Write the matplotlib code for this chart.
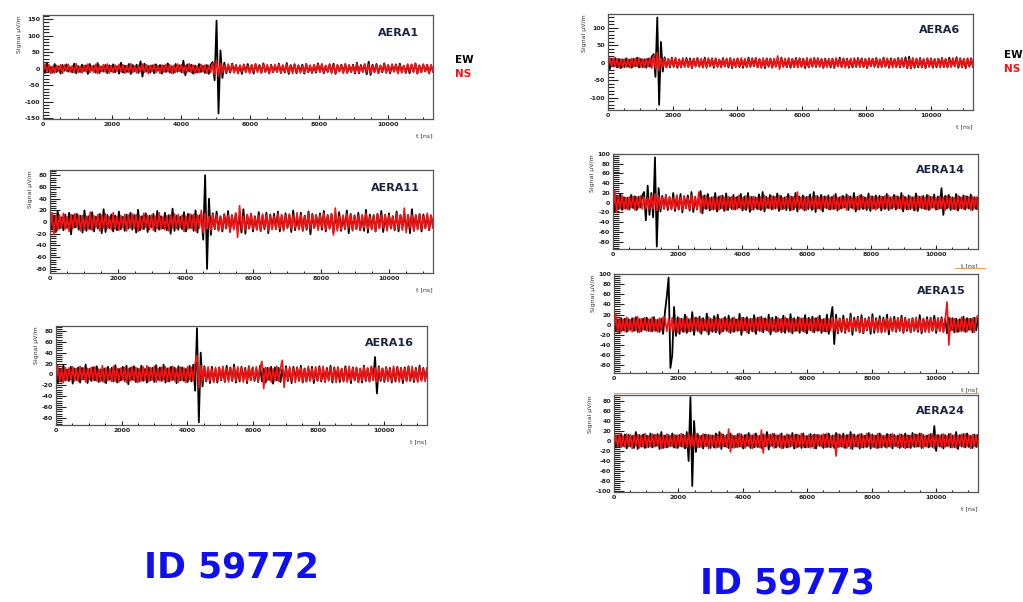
import numpy as np
import matplotlib
matplotlib.use("Agg")
import matplotlib.pyplot as plt
from matplotlib.ticker import MultipleLocator, AutoMinorLocator
from matplotlib.lines import Line2D

plt.rcParams["axes.unicode_minus"] = False

W, H = 1023, 602
T_END = 11300  # ns, end of the trace window

# ---- traces (signal in uV/m, evenly sampled over 0..T_END) ----
aera1_ew = [9, -13, 16, -8, 5, -12, 14, -10, 7, -15, 11, -6, 13, -9, 4, -11, 15, -14, 8, -10,
            12, -7, 10, -16, 14, -5, 9, -12, 17, -13, 6, -9, 11, -14, 10, -8, 13, -11, 7, -15,
            18, -12, 9, -10, 14, -16, 11, -7, 12, -13, 22, -24, 15, -9, 8, -12, 10, -14, 13, -6,
            11, -15, 9, -10, 16, -12, 7, -13, 14, -9, 10, -11, 24, -20, 13, -8, 12, -15, 9, -11,
            14, -10, 8, -13, 11, -16, 12, 20, -35, 145, -135, 55, -28, 18, -14, 10, -12, 15, -9, 11,
            -13, 9, -16, 12, -8, 14, -11, 10, -15, 13, -7, 11, -12, 16, -10, 9, -14, 12, -11, 8,
            -10, 15, -13, 9, -12, 17, -16, 11, -8, 13, -14, 10, -9, 12, -15, 14, -11, 7, -13, 10,
            -12, 16, -9, 11, -14, 8, -10, 13, -12, 15, -16, 10, -8, 12, -11, 14, -13, 9, -10, 12,
            -15, 18, -14, 11, -9, 13, -17, 21, -19, 12, -10, 14, -13, 9, -11, 16, -12, 10, -14, 11,
            -8, 13, -12, 15, -10, 9, -13, 11, -14, 12, -9, 16, -15, 10, -11, 13, -8, 12, -14, 10,
            -9]
aera1_ns = [-11, 14, -9, 12, -15, 8, -13, 10, -7, 12, -14, 11, -8, 13, -10, 9, -12, 15, -11, 7,
            -13, 10, -9, 14, -12, 8, -11, 13, -15, 10, -8, 12, -10, 14, -13, 9, -12, 11, -7, 13,
            -10, 12, -14, 9, -11, 15, -12, 8, -13, 10, -9, 14, -11, 12, -15, 10, -8, 13, -12, 9,
            -14, 11, -10, 13, -9, 12, -15, 10, -11, 14, -8, 12, -13, 9, -10, 15, -12, 11, -14, 8,
            -12, 13, -9, 11, -14, 10, -12, 15, -18, 25, -22, 16, -13, 10, -11, 14, -9, 12, -13, 10,
            -15, 11, -8, 13, -12, 9, -14, 12, -10, 15, -11, 8, -13, 14, -9, 12, -15, 10, -11, 13,
            -8, 12, -14, 11, -10, 13, -12, 9, -15, 14, -11, 10, -13, 8, -12, 15, -10, 11, -14, 12,
            -9, 13, -11, 15, -12, 10, -8, 14, -13, 11, -15, 12, -9, 10, -14, 13, -11, 12, -10, 9,
            -13, 15, -12, 8, -11, 14, -10, 13, -15, 9, -12, 11, -14, 10, -9, 16, -13, 12, -11, 14,
            -10, 12, -15, 11, -13, 9, -12, 14, -8, 13, -11, 15, -14, 10, -12, 13, -9, 11, -15, 12,
            -10]

aera11_ew = [15, -12, 10, -17, 19, -11, 8, -14, 13, -10, 16, -21, 12, -9, 14, -13, 11, -18, 20, -15,
             10, -12, 17, -16, 9, -11, 14, -19, 22, -17, 12, -10, 13, -16, 11, -14, 18, -12, 9, -15,
             13, -11, 16, -13, 12, -18, 21, -14, 10, -12, 15, -17, 11, -9, 14, -16, 19, -13, 10, -11,
             16, -14, 12, -20, 23, -15, 11, -13, 9, -12, 17, -16, 14, -10, 12, -15, 20, -18, 11, 13,
             -30, 80, -80, 40, -22, 15, -12, 18, -14, 10, -16, 13, -11, 19, -17, 12, -10, 15, -13, 11,
             -18, 22, -20, 12, -11, 14, -16, 10, -13, 17, -15, 11, -12, 16, -19, 13, -10, 14, -12, 18,
             -16, 11, -13, 15, -10, 12, -17, 20, -14, 9, -12, 16, -15, 11, -13, 18, -21, 14, -10, 12,
             -11, 15, -13, 19, -16, 12, -10, 14, -18, 13, -11, 17, -15, 10, -12, 20, -19, 14, -13, 11,
             -12, 16, -14, 10, -15, 21, -18, 13, -11, 12, -16, 14, -10, 19, -17, 12, -13, 15, -11, 10,
             -14, 18, -16, 12, -10, 15, -13, 11, -19, 22, -15, 12, -11, 14, -16, 13, -10, 12, -14, 11,
             -9]
aera11_ns = [-13, 16, -21, 11, -14, 12, -10, 15, -12, 9, -16, 13, -11, 14, -9, 12, -15, 11, -13, 10,
             -12, 17, -14, 11, -9, 13, -15, 12, -10, 14, -11, 9, -13, 16, -12, 10, -14, 11, -9, 13,
             -15, 12, -10, 14, -11, 13, -16, 10, -12, 15, -9, 11, -13, 12, -14, 10, -11, 16, -12, 9,
             -13, 11, -15, 12, -10, 14, -11, 13, -9, 12, -16, 10, -12, 14, -11, 13, -15, 12, -10, 20,
             -18, 15, -12, 10, -14, 13, -11, 12, -15, 9, -13, 14, -10, 12, -16, 11, -13, 15, -26, 28,
             -12, 10, -14, 13, -11, 15, -12, 9, -13, 11, -16, 14, -10, 12, -15, 11, -13, 10, -12, 14,
             -11, 13, -15, 12, -9, 14, -12, 11, -10, 16, -13, 12, -14, 10, -11, 15, -12, 13, -10, 11,
             -14, 12, -10, 15, -13, 11, -12, 14, -22, 24, -15, 10, -13, 12, -11, 14, -10, 13, -15, 12,
             -12, 11, -14, 13, -10, 15, -12, 9, -13, 11, -16, 14, -11, 12, -10, 13, -15, 12, -11, 10,
             -13, 15, -11, 12, -14, 24, -18, 13, -10, 12, -15, 11, -13, 14, -12, 10, -11, 15, -13, 12,
             -10]

aera16_ew = [12, -15, 10, -13, 16, -11, 9, -12, 14, -17, 11, -10, 13, -15, 12, -9, 18, -16, 10, -12,
             13, -11, 15, -14, 9, -12, 11, -16, 14, -10, 12, -13, 17, -15, 10, -11, 14, -12, 16, -18,
             12, -10, 15, -14, 11, -13, 16, -12, 10, -15, 13, -11, 12, -14, 17, -10, 13, -12, 18, -15,
             11, -13, 14, -10, 12, -16, 15, -11, 13, -12, 10, -14, 16, -13, 18, -30, 85, -88, 40, -22,
             15, -13, 11, -16, 14, -12, 10, -15, 13, -11, 12, -14, 16, -10, 13, -12, 18, -15, 11, -13,
             14, -10, 12, -16, 15, -11, 13, -12, 10, -14, 16, -13, 11, -15, 12, -10, 14, -17, 13, -11,
             12, -14, 10, -13, 15, -12, 11, -16, 14, -10, 13, -12, 16, -15, 11, -13, 12, -11, 14, -16,
             10, -12, 15, -13, 11, -14, 12, -10, 16, -15, 13, -11, 12, -14, 10, -13, 15, -12, 11, -16,
             13, -11, 12, -14, 10, -15, 16, -12, 11, -13, 14, -10, 32, -35, 15, -12, 11, -14, 13, -10,
             12, -15, 11, -13, 14, -10, 12, -16, 13, -11, 15, -12, 10, -14, 12, -13, 16, -11, 12, -10,
             11]
aera16_ns = [-14, 16, -12, 10, -15, 13, -11, 12, -10, 14, -12, 11, -13, 15, -10, 12, -14, 11, -9, 13,
             -11, 14, -12, 10, -13, 16, -15, 12, -11, 10, -13, 15, -12, 11, -14, 12, -10, 13, -15, 11,
             -12, 14, -11, 13, -15, 10, -12, 14, -11, 16, -13, 12, -10, 15, -14, 11, -12, 13, -10, 14,
             -13, 12, -11, 15, -12, 10, -14, 13, -11, 12, -15, 14, -10, 13, -12, 20, 35, -25, 16, -12,
             13, -11, 14, -12, 10, -15, 13, -11, 12, -10, 15, -13, 11, -14, 12, -10, 13, -12, 14, -11,
             12, -14, 10, -13, 15, -11, 12, -10, 14, -13, 11, 24, -26, 13, -11, 12, -14, 10, -12, 15,
             -13, 11, 26, -24, 12, -10, 14, -12, 11, -15, 13, -11, 12, -14, 10, -13, 15, -12, 11, -10,
             14, -12, 13, -11, 15, -14, 10, -12, 13, -11, 12, -15, 14, -10, 11, -13, 12, -14, 15, -11,
             12, -10, 13, -15, 11, -12, 14, -10, 12, -13, 15, -11, 12, -14, 13, -10, 11, -12, 14, -13,
             10, -12, 15, -11, 13, -14, 12, -10, 11, -13, 14, -12, 15, -11, 10, -14, 13, -12, 11, -13,
             12]

aera6_ew = [16, -18, 12, -10, 14, -13, 11, -15, 10, -12, 13, -11, 9, -14, 12, -10, 15, -13, 11, -12,
            10, -14, 12, -11, 18, 25, -40, 130, -120, 60, -25, 16, -12, 11, -13, 15, -11, 12, -14, 10,
            -13, 12, -10, 14, -11, 13, -15, 12, -9, 14, -11, 10, -13, 15, -12, 11, -10, 13, -14, 12,
            -11, 9, -12, 14, -10, 11, -13, 12, -15, 10, -11, 13, -12, 11, -14, 10, -12, 15, -11, 12,
            -10, 14, -13, 11, -12, 10, -15, 13, -11, 12, -14, 11, -10, 13, -12, 15, -11, 10, -13, 12,
            -14, 11, -12, 14, -10, 13, -11, 12, -15, 10, -13, 12, -11, 14, -12, 13, -10, 11, -14, 12,
            -11, 10, -13, 12, -14, 11, -10, 15, -12, 13, -11, 12, -14, 10, -13, 11, -12, 14, -10, 13,
            -12, 11, -15, 13, -10, 12, -11, 14, -13, 10, -12, 15, -11, 12, -14, 13, -10, 11, -12, 14,
            -13, 12, -11, 16, -15, 18, -16, 12, -14, 11, -13, 14, -12, 10, -15, 13, -11, 12, -14, 11,
            -13, 12, -10, 14, -12, 11, -13, 15, -11, 12, -10, 16, -14, 13, -12, 11, -15, 12, -11, 13,
            -12]
aera6_ns = [-12, 14, -11, 13, -10, 12, -14, 11, -13, 10, -12, 11, -14, 13, -11, 12, -10, 14, -12, 11,
            -13, 12, -11, 14, -15, 20, -16, 30, -22, 13, -11, 12, -14, 11, -10, 13, -12, 15, -11, 10,
            -13, 14, -12, 11, -13, 10, -14, 12, -11, 13, -10, 12, -13, 11, -15, 14, -10, 12, -11, 13,
            -12, 10, -14, 12, -11, 13, -10, 15, -12, 11, -13, 12, -11, 14, -10, 12, -13, 11, -12, 14,
            -10, 13, -12, 11, -15, 14, -11, 12, -10, 13, -14, 11, -12, 20, -18, 12, -11, 13, -12, 14,
            -10, 12, -13, 11, -14, 13, -12, 10, -11, 15, -13, 12, -11, 14, -10, 13, -12, 11, -14, 10,
            -12, 13, -11, 12, -15, 14, -10, 11, -13, 12, -14, 10, -12, 13, -11, 14, -10, 12, -13, 11,
            -12, 11, -14, 13, -10, 12, -11, 15, -13, 10, -12, 14, -11, 13, -12, 10, -14, 11, -13, 12,
            -11, 14, -12, 10, -13, 11, -16, 15, -12, 13, -10, 12, -14, 11, -13, 12, -11, 14, -12, 10,
            -11, 12, -14, 13, -12, 11, -13, 10, -12, 14, -11, 13, -10, 12, -14, 11, -12, 13, -10, 11,
            -12]

aera14_ew = [14, -16, 12, -13, 18, -15, 11, -12, 10, -14, 16, -11, 13, -15, 12, -10, 14, 22, -36, 35,
             -25, 20, -30, 93, -90, 30, -18, 14, -12, 16, -15, 11, -13, 20, -17, 12, -14, 18, -20, 13,
             -11, 15, -16, 22, -19, 12, -14, 10, 24, -22, 15, -13, 18, -16, 11, -14, 20, -18, 13, -12,
             15, -17, 19, -15, 11, -13, 16, -14, 12, -10, 18, -16, 13, -15, 20, -19, 12, -14, 11, -13,
             17, -15, 22, -18, 12, -11, 16, -14, 13, -12, 19, -17, 14, -13, 11, -15, 18, -16, 12, -14,
             20, -18, 13, -11, 15, -16, 12, -13, 17, -15, 22, -19, 14, -12, 16, -18, 13, -11, 15, -14,
             12, -13, 18, -16, 11, -12, 14, -10, 17, -15, 13, -11, 20, -18, 12, -14, 16, -13, 11, -15,
             19, -17, 13, -12, 15, -11, 14, -16, 12, -13, 18, -15, 11, -12, 16, -14, 13, -11, 20, -18,
             12, -14, 15, -13, 11, -16, 19, -17, 12, -11, 14, -13, 16, -15, 12, -10, 17, -14, 13, -12,
             30, -25, 14, -12, 16, -15, 11, -13, 18, -16, 12, -11, 15, -14, 13, -12, 17, -15, 11, -13,
             10]
aera14_ns = [-15, 25, -20, 14, -12, 15, -13, 11, -14, 12, -10, 13, -15, 12, -11, 14, -13, 11, -12, 10,
             -13, 15, -12, 18, -16, 14, -12, 11, -13, 15, -11, 12, -14, 10, -13, 16, -12, 11, -15, 14,
             -12, 10, -13, 15, -11, 12, -14, 22, -20, 13, -11, 15, -12, 10, -14, 12, -13, 11, -15, 14,
             -12, 11, -15, 13, -10, 12, -14, 11, -13, 15, -12, 10, -13, 14, -11, 12, -15, 13, -10, 11,
             -14, 12, -13, 15, -11, 10, -12, 14, -13, 12, -11, 15, -14, 10, -12, 13, -11, 14, -15, 12,
             -10, 22, -13, 11, -14, 12, -15, 13, -11, 10, -13, 14, -12, 11, -15, 13, -10, 12, -14, 11,
             -13, 15, -12, 10, -14, 13, -11, 12, -15, 14, -10, 11, -13, 12, -14, 15, -11, 13, -12, 10,
             -11, 14, -13, 12, -15, 11, -10, 13, -12, 14, -11, 15, -13, 12, -10, 14, -12, 11, -13, 15,
             -12, 10, -14, 13, -11, 12, -15, 14, -10, 13, -12, 11, -14, 15, -13, 12, -11, 10, -14, 13,
             -12, 11, -15, 14, -10, 12, -13, 11, -14, 15, -12, 10, -13, 14, -11, 12, -15, 13, -11, 12,
             -14]

aera15_ew = [14, -12, 10, -15, 13, -11, 12, -14, 11, -10, 13, -12, 15, -14, 11, -13, 12, -10, 14, -12,
             11, -13, 15, -12, 10, -14, 12, -18, 25, 55, 93, -85, -60, 35, -22, 15, -18, 12, -14, 20,
             -16, 11, -13, 25, -20, 14, -12, 16, -18, 13, -11, 22, -19, 12, -14, 17, -15, 20, -18, 11,
             -13, 15, -12, 18, -16, 13, -14, 11, -12, 22, -20, 14, -11, 15, -17, 12, -13, 19, -18, 14,
             -12, 16, -15, 13, -11, 20, -19, 14, -12, 16, -13, 11, -15, 18, -16, 12, -14, 21, -17, 13,
             -12, 15, -16, 12, -13, 19, -17, 14, -11, 16, -15, 13, -12, 18, -16, 11, -13, 20, -18, 12,
             35, -38, 20, -17, 12, -14, 18, -16, 11, -13, 22, -20, 14, -12, 16, -15, 19, -17, 12, -11,
             15, -18, 21, -16, 13, -12, 17, -15, 14, -13, 20, -19, 12, -11, 16, -14, 13, -12, 18, -16,
             14, -12, 11, -15, 13, -12, 10, -14, 19, -17, 12, -13, 15, -11, 14, -12, 18, -16, 13, -11,
             15, -13, 12, -17, 14, -11, 13, -15, 12, -14, 11, -12, 16, -14, 13, -10, 12, -15, 14, -11,
             12]
aera15_ns = [-18, 22, -15, 12, -14, 11, -13, 15, -12, 10, -14, 13, -11, 16, -15, 12, -10, 14, -12, 11,
             -13, 15, -12, 10, -14, 13, -11, 15, 14, -13, 12, -11, 14, -12, 10, -15, 13, -11, 12, -14,
             16, -13, 11, -12, 14, -10, 13, -15, 12, -11, 10, -14, 15, -12, 11, -13, 14, -11, 12, -15,
             13, -10, 12, -14, 11, -13, 15, -12, 10, -11, 14, -12, 13, -15, 11, -10, 12, -14, 13, -11,
             15, -13, 12, -10, 11, -14, 13, -12, 10, -15, 14, -11, 12, -13, 15, -10, 11, -14, 12, -13,
             10, -12, 14, -11, 13, -15, 12, -10, 11, -14, 13, -12, 15, -11, 10, -13, 12, -14, 11, -12,
             14, -11, 12, -15, 13, -10, 11, -14, 12, -13, 15, -12, 10, -11, 14, -13, 12, -15, 11, -10,
             13, -12, 14, -11, 10, -15, 12, -13, 11, -14, 12, -10, 15, -13, 11, -12, 14, -11, 13, -15,
             12, -10, 11, -14, 13, -12, 15, -11, 10, -13, 12, -14, 11, -15, 13, -12, 10, -11, 14, -13,
             12, -15, 11, 45, -40, 13, -11, 12, -14, 10, -13, 15, -12, 11, -14, 12, -10, 13, -15, 14,
             18]

aera24_ew = [15, -13, 11, -12, 14, -10, 13, -15, 12, -11, 10, -14, 18, -16, 12, -11, 13, -14, 11, -12,
             15, -13, 12, -10, 14, -16, 18, -14, 11, -13, 12, -10, 15, -13, 11, -14, 12, -11, 13, -15,
             18, -40, 88, -90, 40, -22, 14, -12, 11, -15, 13, -10, 12, -14, 11, -13, 15, -12, 18, -16,
             13, -11, 12, -14, 15, -13, 10, -12, 14, -11, 13, -15, 12, -10, 16, -14, 11, -13, 15, -12,
             10, -14, 13, -11, 18, -17, 12, -10, 14, -13, 11, -12, 15, -14, 10, -13, 12, -11, 16, -15,
             13, -12, 11, -14, 15, -13, 10, -12, 14, -11, 13, -15, 12, -10, 11, -14, 13, -12, 15, -13,
             11, -14, 16, -12, 13, -11, 15, -14, 12, -10, 18, -16, 13, -11, 12, -15, 14, -13, 11, -12,
             16, -15, 13, -12, 11, -14, 15, -13, 10, -12, 14, -11, 13, -15, 12, -10, 11, -14, 13, -12,
             15, -13, 11, -14, 16, -12, 13, -11, 15, -14, 12, -10, 11, -13, 14, -12, 30, -20, 12, -11,
             13, -15, 12, -10, 14, -13, 11, -12, 18, -16, 12, -11, 14, -13, 15, -12, 10, -14, 13, -12,
             12]
aera24_ns = [-14, 12, -11, 15, -13, 10, -12, 14, -11, 13, -15, 12, -10, 13, -14, 11, -12, 15, -13, 10,
             -11, 14, -12, 13, -10, 12, -15, 11, -13, 14, -12, 10, -11, 13, -14, 12, -10, 15, -12, 11,
             -13, 16, -14, 12, -11, 15, -13, 10, -12, 14, -11, 13, -15, 12, -10, 11, -14, 13, -12, 15,
             -11, 10, -13, 24, -22, 12, -14, 11, -13, 15, -12, 10, -14, 13, -11, 12, -15, 14, -12, 11,
             -13, 22, -24, 12, -10, 13, -11, 15, -14, 12, -11, 13, -15, 10, -12, 14, -13, 11, -10, 12,
             -14, 13, -11, 15, -12, 10, -13, 12, -14, 11, -15, 13, -10, 12, -11, 14, -13, 15, -12, 10,
             -11, 12, -30, 14, -12, 10, -13, 11, -14, 12, -15, 13, -11, 10, -12, 14, -13, 11, -12, 15,
             -10, 13, -12, 11, -14, 15, -13, 12, -10, 11, -14, 13, -12, 15, -11, 10, -13, 14, -12, 11,
             -15, 12, -13, 11, -10, 14, -12, 13, -11, 15, -14, 10, -12, 13, -11, 14, -15, 12, -10, 11,
             -13, 14, -12, 10, -11, 15, -13, 12, -14, 11, -10, 13, -12, 14, -11, 12, -15, 13, -10, 12,
             -11]

stations = ["AERA1", "AERA11", "AERA16", "AERA6", "AERA14", "AERA15", "AERA24"]
ew_traces = [aera1_ew, aera11_ew, aera16_ew, aera6_ew, aera14_ew, aera15_ew, aera24_ew]
ns_traces = [aera1_ns, aera11_ns, aera16_ns, aera6_ns, aera14_ns, aera15_ns, aera24_ns]
y_limits = [(-152, 162), (-87, 89), (-93, 89), (-135, 140), (-95, 100), (-95, 100), (-102, 92)]
y_steps = [50, 20, 20, 50, 20, 20, 20]
event_ids = ["ID 59772", "ID 59773"]

# panel boxes in pixels: left, top, right, bottom
boxes = [(43, 15, 433, 119), (50, 170, 433, 273), (56, 326, 427, 425),
         (608, 14, 973, 110), (613, 154, 978, 249), (614, 274, 978, 373),
         (614, 395, 978, 492)]

fig = plt.figure(figsize=(W / 100, H / 100), dpi=100)
fig.patch.set_facecolor("white")

for name, ew, ns, ylim, step, (l, t, r, b) in zip(stations, ew_traces, ns_traces,
                                                 y_limits, y_steps, boxes):
    ax = fig.add_axes([l / W, 1 - b / H, (r - l) / W, (b - t) / H])
    ax.plot(np.linspace(0, T_END, len(ew)), ew, color="black", lw=1.3)
    ax.plot(np.linspace(0, T_END, len(ns)), ns, color="#ff1010", lw=1.2)
    ax.set_xlim(0, T_END)
    ax.set_ylim(*ylim)
    ax.xaxis.set_major_locator(MultipleLocator(2000))
    ax.xaxis.set_minor_locator(AutoMinorLocator(4))
    ax.yaxis.set_major_locator(MultipleLocator(step))
    ax.yaxis.set_minor_locator(AutoMinorLocator(5))
    ax.tick_params(which="both", direction="in", labelsize=4.5, width=0.8,
                   colors="#222222", pad=2)
    ax.tick_params(axis="y", which="major", length=7)
    ax.tick_params(axis="y", which="minor", length=4)
    ax.tick_params(axis="x", which="major", length=3)
    ax.tick_params(axis="x", which="minor", length=1.5)
    for lab in ax.get_xticklabels() + ax.get_yticklabels():
        lab.set_fontweight("bold")
    for sp in ax.spines.values():
        sp.set_color("#555555")
        sp.set_linewidth(0.9)
    ax.set_ylabel("Signal μV/m", fontsize=4.5, loc="top", labelpad=2, color="#333333")
    ax.set_xlabel("t [ns]", fontsize=4.5, loc="right", labelpad=5, color="#333333")
    ax.text(0.965, 0.83, name, transform=ax.transAxes, ha="right", va="center",
            fontsize=8, fontweight="bold", color="#1c2340")

# legend texts beside the top panels
for x, y0 in [(455, 60), (1004, 55)]:
    fig.text(x / W, 1 - y0 / H, "EW", color="black", fontsize=7.5,
             fontweight="bold", ha="left", va="center")
    fig.text(x / W, 1 - (y0 + 14) / H, "NS", color="#ff1010", fontsize=7.5,
             fontweight="bold", ha="left", va="center")

# thin orange marks left over in the scan
fig.add_artist(Line2D([614 / W, 978 / W], [1 - 393 / H, 1 - 393 / H],
                      color="#e8a060", lw=0.8))
fig.add_artist(Line2D([955 / W, 985 / W], [1 - 268 / H, 1 - 268 / H],
                      color="#e8a060", lw=0.8))

fig.text(231 / W, 1 - 567 / H, event_ids[0], color="#1010ee", fontsize=25,
         fontweight="bold", ha="center", va="center")
fig.text(787 / W, 1 - 584 / H, event_ids[1], color="#1010ee", fontsize=25,
         fontweight="bold", ha="center", va="center")

fig.savefig("out.png", dpi=100)
